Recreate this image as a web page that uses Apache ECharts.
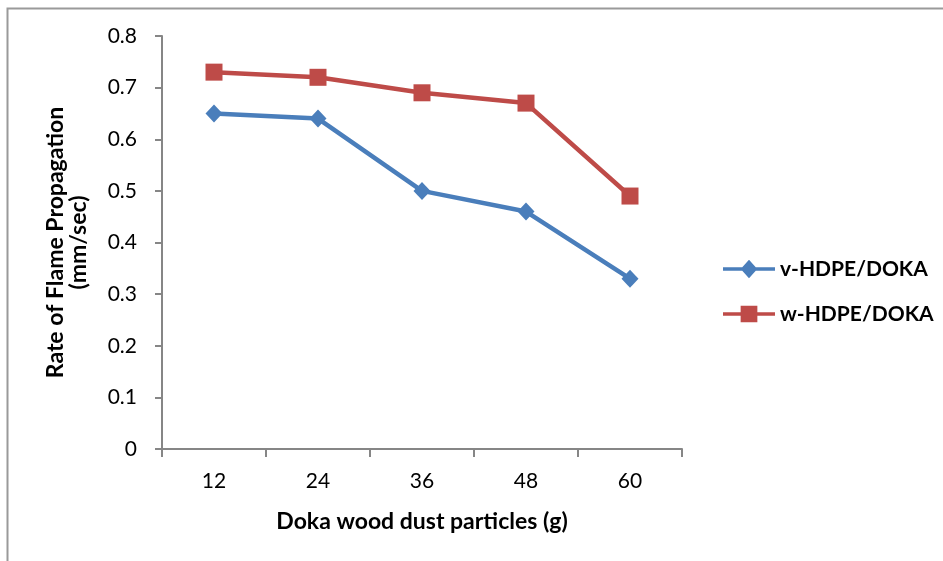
<!DOCTYPE html>
<html><head><meta charset="utf-8">
<script src="https://cdn.jsdelivr.net/npm/echarts@6/dist/echarts.min.js"></script>
<style>html,body{margin:0;padding:0;background:#fff}#c{width:943px;height:561px}</style>
</head><body><div id="c"></div>
<script>
const categories = ['12','24','36','48','60'];
const vHDPE = [0.65, 0.64, 0.50, 0.46, 0.33];
const wHDPE = [0.73, 0.72, 0.69, 0.67, 0.49];
const seriesNames = ['v-HDPE/DOKA','w-HDPE/DOKA'];
const FONT = 'Lato, "Open Sans", sans-serif';
const diamondIcon = 'path://M0,8L56,8L56,12L0,12Z M28,0L37,10L28,20L19,10Z';
const squareIcon = 'path://M0,8L56,8L56,12L0,12Z M19,1L37,1L37,19L19,19Z';
const chart = echarts.init(document.getElementById('c'), null, {renderer:'canvas'});
chart.setOption({
  animation:false,
  graphic:[{type:'rect',shape:{x:7.5,y:8.5,width:940,height:560},style:{fill:'none',stroke:'#9a9a9a',lineWidth:2}}],
  grid:{left:162,right:261,top:36,bottom:112,containLabel:false},
  legend:{orient:'vertical',left:718,top:253,itemGap:23,itemWidth:52,itemHeight:20,
    textStyle:{fontFamily:FONT,fontWeight:'bold',fontSize:21,color:'#000',lineHeight:22},
    data:[{name:seriesNames[0],icon:diamondIcon},{name:seriesNames[1],icon:squareIcon}]},
  xAxis:{type:'category',data:categories,boundaryGap:true,
    axisLine:{lineStyle:{color:'#868686',width:2}},
    axisTick:{show:true,length:8,alignWithLabel:false,lineStyle:{color:'#868686',width:2}},
    axisLabel:{fontFamily:FONT,fontSize:21,color:'#000',margin:22},
    name:'Doka wood dust particles (g)',nameLocation:'middle',nameGap:61,
    nameTextStyle:{fontFamily:FONT,fontWeight:'bold',fontSize:23,color:'#000'}},
  yAxis:{type:'value',min:0,max:0.8,interval:0.1,
    axisLine:{show:true,lineStyle:{color:'#868686',width:2}},
    axisTick:{show:true,length:7,lineStyle:{color:'#868686',width:2}},
    splitLine:{show:false},
    axisLabel:{fontFamily:FONT,fontSize:21,color:'#000',margin:25,formatter:v=>String(Math.round(v*10)/10)},
    name:'Rate of Flame Propagation\n(mm/sec)',nameLocation:'middle',nameRotate:90,nameGap:72,
    nameTextStyle:{fontFamily:FONT,fontWeight:'bold',fontSize:23,color:'#000',lineHeight:23,align:'center'}},
  series:[
    {name:seriesNames[0],type:'line',data:vHDPE,symbol:'diamond',symbolSize:[17,18],
     lineStyle:{color:'#4a7ebb',width:4.5},itemStyle:{color:'#4a7ebb'}},
    {name:seriesNames[1],type:'line',data:wHDPE,symbol:'rect',symbolSize:17,
     lineStyle:{color:'#be4b48',width:4.5},itemStyle:{color:'#be4b48'}}
  ]
});
</script></body></html>
